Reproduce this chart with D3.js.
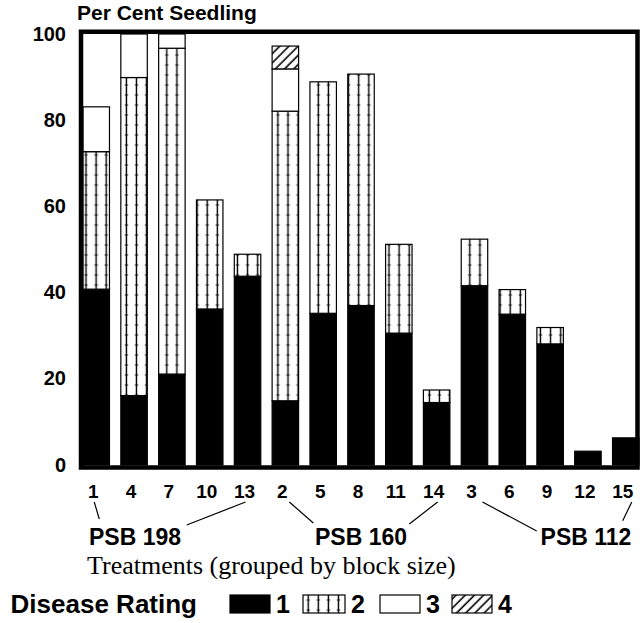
<!DOCTYPE html>
<html>
<head>
<meta charset="utf-8">
<script src="https://cdn.jsdelivr.net/npm/d3@7/dist/d3.min.js"></script>
<style>
  body { margin: 0; background: #fff; }
  text { font-family: "Liberation Sans", Arial, sans-serif; font-weight: bold; fill: #000; }
</style>
</head>
<body>
<div id="chart"></div>
<script>
// treatments in plotted order (grouped by block size)
var treatments = ["1", "4", "7", "10", "13", "2", "5", "8", "11", "14", "3", "6", "9", "12", "15"];
// per cent seedlings in each disease rating class
var rating1 = [40.8, 16.1, 21.1, 36.2, 43.8, 14.9, 35.2, 37.0, 30.6, 14.5, 41.6, 35.0, 28.1, 3.2, 6.3];
var rating2 = [31.9, 73.8, 75.6, 25.3, 5.1, 67.2, 53.7, 53.7, 20.6, 2.9, 10.8, 5.7, 3.8, 0, 0];
var rating3 = [10.4, 10.1, 3.3, 0, 0, 9.8, 0, 0, 0, 0, 0, 0, 0, 0, 0];
var rating4 = [0, 0, 0, 0, 0, 5.3, 0, 0, 0, 0, 0, 0, 0, 0, 0];
var yTicks = [0, 20, 40, 60, 80, 100];
var ratingNames = ["1", "2", "3", "4"];
var groupNames = ["PSB 198", "PSB 160", "PSB 112"];

var width = 641, height = 623;

var svg = d3.select("#chart").append("svg")
  .attr("width", width)
  .attr("height", height);

// patterns
var defs = svg.append("defs");
var stripes = defs.append("pattern")
  .attr("id", "stripes")
  .attr("patternUnits", "userSpaceOnUse")
  .attr("x", 81).attr("y", 0)
  .attr("width", 10.1).attr("height", 10);
stripes.append("rect").attr("width", 10.1).attr("height", 10).attr("fill", "#fff");
stripes.append("line")
  .attr("x1", 5).attr("x2", 5).attr("y1", 0).attr("y2", 10)
  .attr("stroke", "#000").attr("stroke-width", 1.4);
stripes.append("line")
  .attr("x1", 3.3).attr("x2", 6.7).attr("y1", 5).attr("y2", 5)
  .attr("stroke", "#000").attr("stroke-width", 0.8);

var hatch = defs.append("pattern")
  .attr("id", "hatch")
  .attr("patternUnits", "userSpaceOnUse")
  .attr("width", 6.5).attr("height", 6.5)
  .attr("patternTransform", "rotate(45)");
hatch.append("rect").attr("width", 6.5).attr("height", 6.5).attr("fill", "#fff");
hatch.append("line")
  .attr("x1", 3).attr("x2", 3).attr("y1", 0).attr("y2", 6.5)
  .attr("stroke", "#000").attr("stroke-width", 1.6);

var fills = ["#000", "url(#stripes)", "#fff", "url(#hatch)"];

// scales
var x = d3.scaleBand()
  .domain(treatments)
  .range([83, 639])
  .paddingInner(0.3)
  .paddingOuter(0);

var y = d3.scaleLinear()
  .domain([0, 100])
  .range([465, 34]);

// stacked data
var table = treatments.map(function(t, i) {
  return { treatment: t, r1: rating1[i], r2: rating2[i], r3: rating3[i], r4: rating4[i] };
});
var keys = ["r1", "r2", "r3", "r4"];
var series = d3.stack().keys(keys)(table);

svg.append("g").attr("class", "bars")
  .selectAll("g")
  .data(series)
  .join("g")
    .attr("fill", function(d, i) { return fills[i]; })
  .selectAll("rect")
  .data(function(d) { return d.filter(function(s) { return s[1] - s[0] > 0; }); })
  .join("rect")
    .attr("x", function(d) { return x(d.data.treatment); })
    .attr("y", function(d) { return y(d[1]); })
    .attr("width", x.bandwidth())
    .attr("height", function(d) { return y(d[0]) - y(d[1]); })
    .attr("stroke", "#000")
    .attr("stroke-width", 1.2);

// frame
svg.append("rect")
  .attr("x", 81)
  .attr("y", 31.75)
  .attr("width", 556.5)
  .attr("height", 435.75)
  .attr("fill", "none")
  .attr("stroke", "#000")
  .attr("stroke-width", 4.5);

// y tick labels
svg.append("g").attr("class", "yLabels")
  .selectAll("text")
  .data(yTicks)
  .join("text")
    .attr("x", 66)
    .attr("y", function(d) { return y(d); })
    .attr("dy", "0.33em")
    .attr("text-anchor", "end")
    .style("font-size", "20px")
    .text(function(d) { return d; });

svg.append("text")
  .attr("x", 77)
  .attr("y", 20)
  .style("font-size", "21px")
  .text("Per Cent Seedling");

// x tick labels
svg.append("g").attr("class", "xLabels")
  .selectAll("text")
  .data(treatments)
  .join("text")
    .attr("x", function(d) { return x(d) + x.bandwidth() / 2 - 3; })
    .attr("y", 498)
    .attr("text-anchor", "middle")
    .style("font-size", "19px")
    .text(function(d) { return d; });

// group labels and their connectors
var groupPos = [135, 361, 586];
svg.append("g").attr("class", "groups")
  .selectAll("text")
  .data(groupNames)
  .join("text")
    .attr("x", function(d, i) { return groupPos[i]; })
    .attr("y", 545)
    .attr("text-anchor", "middle")
    .style("font-size", "23px")
    .text(function(d) { return d; });

var connectors = [
  ["1", 99.3, 519], ["13", 186.7, 525],
  ["2", 313.3, 523], ["14", 409.3, 524],
  ["3", 536.7, 531], ["15", 622.7, 520.7]
];
var connDx = { "1": -2, "13": -2, "2": 4, "14": 1, "3": 8, "15": 6 };
svg.append("g").attr("class", "connectors")
  .selectAll("line")
  .data(connectors)
  .join("line")
    .attr("x1", function(d) { return x(d[0]) + x.bandwidth() / 2 + connDx[d[0]]; })
    .attr("y1", 502)
    .attr("x2", function(d) { return d[1]; })
    .attr("y2", function(d) { return d[2]; })
    .attr("stroke", "#000")
    .attr("stroke-width", 1.2);

svg.append("text")
  .attr("x", 87)
  .attr("y", 574)
  .style("font-family", "'Liberation Serif', 'Times New Roman', serif")
  .style("font-weight", "normal")
  .style("font-size", "26px")
  .text("Treatments (grouped by block size)");

// legend
svg.append("text")
  .attr("x", 197)
  .attr("y", 613)
  .attr("text-anchor", "end")
  .style("font-size", "26px")
  .text("Disease Rating");

var legendX = [230, 303, 380, 452];
var legend = svg.append("g").attr("class", "legend")
  .selectAll("g")
  .data(ratingNames)
  .join("g")
    .attr("transform", function(d, i) { return "translate(" + legendX[i] + ",595)"; });
legend.append("rect")
  .attr("width", function(d, i) { return i == 1 ? 42 : 40; })
  .attr("height", 18)
  .attr("fill", function(d, i) { return fills[i]; })
  .attr("stroke", "#000")
  .attr("stroke-width", 1.2);
legend.append("text")
  .attr("x", function(d, i) { return (i == 1 ? 42 : 40) + 6; })
  .attr("y", 18)
  .style("font-size", "25px")
  .text(function(d) { return d; });
</script>
</body>
</html>
